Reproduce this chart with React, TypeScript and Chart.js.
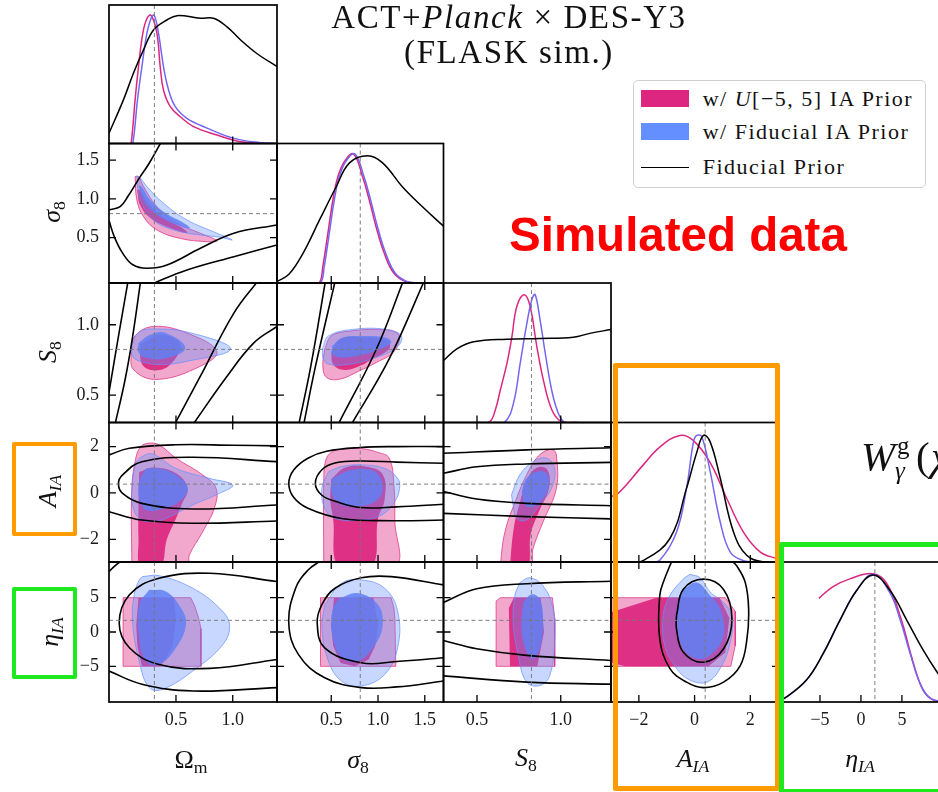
import { useEffect, useRef } from 'react';
import { Chart, registerables } from 'chart.js';
Chart.register(...registerables);

type P = [number, number];

// ---------------- 1D marginals: [value, normalised density] ----------------
const om_1d_U: P[] = [[0.09, 0], [0.105, 0.0], [0.14, 0.34], [0.17, 0.6], [0.208, 0.86], [0.244, 0.975], [0.28, 1.0], [0.332, 0.86], [0.361, 0.6], [0.39, 0.417], [0.45, 0.287], [0.538, 0.209], [0.655, 0.131], [0.862, 0.066], [1.068, 0.014], [1.39, 0.0]];
const om_1d_F: P[] = [[0.1, 0], [0.12, 0.0], [0.161, 0.34], [0.2, 0.6], [0.244, 0.86], [0.28, 0.975], [0.308, 1.0], [0.346, 0.86], [0.39, 0.6], [0.435, 0.417], [0.494, 0.287], [0.597, 0.196], [0.774, 0.12], [1.01, 0.04], [1.245, 0.006], [1.39, 0.0]];
const om_1d_P: P[] = [[-0.09, 0.08], [0.037, 0.34], [0.126, 0.55], [0.214, 0.73], [0.302, 0.885], [0.42, 0.963], [0.51, 0.997], [0.715, 0.977], [0.83, 0.977], [0.95, 0.91], [1.07, 0.807], [1.215, 0.7], [1.39, 0.6]];

const s8_1d_U: P[] = [[0.3, 0], [0.376, 0.005], [0.41, 0.126], [0.464, 0.385], [0.517, 0.64], [0.57, 0.82], [0.64, 0.94], [0.737, 1.0], [0.836, 0.82], [0.907, 0.64], [0.979, 0.436], [1.067, 0.23], [1.17, 0.075], [1.3, 0.01], [1.45, 0]];
const s8_1d_F: P[] = [[0.32, 0], [0.39, 0.005], [0.425, 0.126], [0.479, 0.385], [0.532, 0.64], [0.585, 0.82], [0.655, 0.94], [0.752, 1.0], [0.851, 0.82], [0.922, 0.64], [0.994, 0.436], [1.082, 0.23], [1.185, 0.075], [1.315, 0.01], [1.46, 0]];
const s8_1d_P: P[] = [[-0.08, 0.01], [0.05, 0.07], [0.198, 0.23], [0.376, 0.49], [0.553, 0.745], [0.695, 0.93], [0.889, 0.985], [1.049, 0.93], [1.26, 0.745], [1.475, 0.59], [1.7, 0.44]];

const S8_1d_U: P[] = [[0.5, 0], [0.575, 0.005], [0.61, 0.1], [0.639, 0.25], [0.679, 0.46], [0.708, 0.66], [0.738, 0.9], [0.782, 0.99], [0.817, 0.9], [0.857, 0.59], [0.896, 0.33], [0.946, 0.1], [1.0, 0.01], [1.1, 0]];
const S8_1d_F: P[] = [[0.6, 0], [0.668, 0.005], [0.718, 0.15], [0.758, 0.46], [0.798, 0.77], [0.827, 0.95], [0.847, 0.99], [0.877, 0.79], [0.907, 0.54], [0.946, 0.25], [0.986, 0.07], [1.026, 0.0], [1.1, 0]];
const S8_1d_P: P[] = [[0.3, 0.48], [0.38, 0.57], [0.48, 0.625], [0.679, 0.645], [0.877, 0.65], [1.075, 0.66], [1.174, 0.69], [1.3, 0.72]];

const A_1d_U: P[] = [[-3.1, 0.5], [-2.75, 0.53], [-1.85, 0.75], [-1.25, 0.89], [-0.53, 0.98], [-0.04, 0.94], [0.56, 0.77], [1.16, 0.49], [1.76, 0.23], [2.36, 0.077], [2.96, 0.026], [3.1, 0.02]];
const A_1d_F: P[] = [[-1.6, 0], [-1.25, 0.013], [-0.65, 0.23], [-0.29, 0.57], [-0.04, 0.93], [0.08, 0.98], [0.26, 0.97], [0.56, 0.7], [0.92, 0.31], [1.28, 0.077], [1.76, 0.01], [2.2, 0]];
const A_1d_P: P[] = [[-2.3, 0], [-1.85, 0.01], [-0.89, 0.18], [-0.29, 0.57], [0.08, 0.85], [0.32, 0.98], [0.56, 0.93], [0.92, 0.65], [1.4, 0.23], [1.88, 0.05], [2.48, 0.0], [3.1, 0]];

const eta_1d_U: P[] = [[-5.14, 0.8], [-3.4, 0.89], [-1.35, 0.95], [1.5, 0.99], [3.15, 0.915], [4.8, 0.66], [6.4, 0.3], [7.6, 0.09], [8.85, 0.015], [10.5, 0]];
const eta_1d_F: P[] = [[-10, 0.02], [-9.3, 0.03], [-6.65, 0.17], [-4.6, 0.375], [-2.57, 0.63], [-0.53, 0.86], [1.5, 0.985], [3.55, 0.84], [4.8, 0.63], [6.0, 0.375], [7.2, 0.145], [8.45, 0.03], [10.5, 0]];
const eta_1d_P: P[] = [[-10, 0.02], [-9.3, 0.03], [-6.65, 0.17], [-4.6, 0.375], [-2.57, 0.63], [-0.53, 0.86], [1.5, 0.98], [3.55, 0.86], [5.6, 0.63], [7.6, 0.4], [9.4, 0.22], [10.5, 0.13]];

// ---------------- 2D contours: [x, y] outlines ----------------
// Omega_m - sigma_8
const om_s8_U95: P[] = [[0.14, 1.288], [0.155, 0.987], [0.214, 0.771], [0.332, 0.6], [0.538, 0.49], [0.774, 0.448], [0.862, 0.46], [0.715, 0.557], [0.509, 0.686], [0.332, 0.9], [0.214, 1.159], [0.17, 1.288], [0.14, 1.288]];
const om_s8_U68: P[] = [[0.158, 1.116], [0.185, 0.92], [0.273, 0.755], [0.45, 0.625], [0.6, 0.56], [0.556, 0.625], [0.38, 0.767], [0.255, 0.948], [0.185, 1.116], [0.158, 1.116]];
const om_s8_F95: P[] = [[0.155, 1.297], [0.185, 0.987], [0.302, 0.729], [0.479, 0.6], [0.715, 0.535], [0.891, 0.505], [0.995, 0.47], [0.862, 0.557], [0.597, 0.729], [0.39, 0.944], [0.244, 1.159], [0.185, 1.27], [0.155, 1.297]];
const om_s8_F68: P[] = [[0.17, 1.18], [0.211, 0.987], [0.3, 0.83], [0.45, 0.7], [0.626, 0.62], [0.582, 0.677], [0.405, 0.82], [0.273, 0.987], [0.2, 1.155], [0.17, 1.18]];
const om_s8_P1: P[] = [[0.376, 1.75], [0.26, 1.45], [0.185, 1.288], [0.08, 1.04], [0.008, 0.9], [-0.09, 0.86]];
const om_s8_P2: P[] = [[-0.09, 0.72], [-0.04, 0.5], [0.03, 0.3], [0.12, 0.15], [0.244, 0.105], [0.42, 0.147], [0.715, 0.363], [1.01, 0.557], [1.39, 0.664]];
const om_s8_P3: P[] = [[0.25, -0.12], [0.3, -0.09], [0.597, 0.083], [1.01, 0.255], [1.39, 0.405]];

// Omega_m - S_8
const om_S8_U95: P[] = [[0.102, 0.811], [0.14, 0.922], [0.302, 0.988], [0.597, 0.941], [0.86, 0.81], [0.715, 0.705], [0.332, 0.611], [0.125, 0.682], [0.102, 0.811]];
const om_S8_U68: P[] = [[0.185, 0.859], [0.361, 0.929], [0.538, 0.859], [0.45, 0.717], [0.317, 0.675], [0.203, 0.717], [0.185, 0.859]];
const om_S8_F95: P[] = [[0.111, 0.847], [0.167, 0.943], [0.302, 0.97], [0.626, 0.943], [0.98, 0.828], [0.597, 0.74], [0.361, 0.717], [0.185, 0.74], [0.114, 0.78], [0.111, 0.847]];
const om_S8_F68: P[] = [[0.17, 0.871], [0.273, 0.929], [0.405, 0.943], [0.582, 0.835], [0.405, 0.76], [0.229, 0.767], [0.167, 0.809], [0.17, 0.871]];
const om_S8_P1: P[] = [[-0.09, 0.52], [0.0, 0.95], [0.08, 1.32]];
const om_S8_P2: P[] = [[-0.04, 0.28], [0.052, 0.611], [0.114, 0.894], [0.19, 1.32]];
const om_S8_P3: P[] = [[0.48, 0.28], [0.715, 0.634], [1.01, 1.083], [1.23, 1.32]];
const om_S8_P4: P[] = [[0.64, 0.28], [0.95, 0.634], [1.186, 0.871], [1.39, 0.988]];

// sigma_8 - S_8
const s8_S8_U95: P[] = [[0.43, 0.826], [0.5, 0.92], [0.7, 0.955], [1.02, 0.967], [1.2, 0.943], [1.23, 0.896], [1.16, 0.802], [0.98, 0.731], [0.8, 0.672], [0.59, 0.613], [0.45, 0.625], [0.41, 0.708], [0.43, 0.826]];
const s8_S8_U68: P[] = [[0.5, 0.8], [0.6, 0.9], [0.85, 0.91], [1.1, 0.89], [1.12, 0.83], [0.95, 0.76], [0.78, 0.7], [0.62, 0.68], [0.52, 0.72], [0.5, 0.8]];
const s8_S8_F95: P[] = [[0.41, 0.838], [0.47, 0.92], [0.73, 0.967], [1.09, 0.967], [1.25, 0.92], [1.2, 0.838], [0.98, 0.767], [0.7, 0.72], [0.47, 0.72], [0.41, 0.767], [0.41, 0.838]];
const s8_S8_F68: P[] = [[0.51, 0.85], [0.62, 0.908], [0.82, 0.92], [1.09, 0.908], [1.14, 0.873], [1.02, 0.826], [0.86, 0.79], [0.62, 0.767], [0.51, 0.79], [0.51, 0.85]];
const s8_S8_P1: P[] = [[0.149, 0.28], [0.28, 0.7], [0.44, 1.32]];
const s8_S8_P2: P[] = [[0.202, 0.28], [0.33, 0.7], [0.545, 1.32]];
const s8_S8_P3: P[] = [[0.565, 0.28], [0.982, 0.826], [1.275, 1.32]];
const s8_S8_P4: P[] = [[0.705, 0.28], [1.118, 0.755], [1.5, 1.32]];

// Omega_m - A_IA
const om_A_U95: P[] = [[0.111, -3.2], [0.111, 0.2], [0.146, 1.5], [0.19, 2.0], [0.264, 2.15], [0.353, 2.07], [0.5, 1.5], [0.736, 0.777], [0.853, 0.2], [0.838, -0.66], [0.736, -1.67], [0.618, -2.68], [0.6, -3.2], [0.111, -3.2]];
const om_A_U68: P[] = [[0.176, 0.9], [0.3, 1.1], [0.5, 0.85], [0.603, 0.2], [0.55, -0.5], [0.5, -1.1], [0.42, -2.0], [0.36, -3.2], [0.19, -3.2], [0.17, -2.0], [0.17, -0.5], [0.176, 0.9]];
const om_A_F95: P[] = [[0.146, 1.35], [0.205, 1.58], [0.294, 1.68], [0.5, 1.06], [0.795, 0.63], [1.0, 0.34], [0.883, -0.017], [0.647, -0.52], [0.412, -1.1], [0.294, -1.24], [0.176, -1.1], [0.117, -0.52], [0.117, 0.49], [0.146, 1.35]];
const om_A_F68: P[] = [[0.235, 1.06], [0.353, 1.06], [0.5, 0.78], [0.603, 0.2], [0.53, -0.37], [0.353, -0.73], [0.235, -0.73], [0.176, -0.23], [0.176, 0.49], [0.235, 1.06]];
const om_A_P1: P[] = [[-0.09, 1.64], [0.09, 1.93], [0.5, 2.08], [1.0, 2.06], [1.39, 2.03]];
const om_A_P2: P[] = [[1.39, 1.35], [0.65, 1.54], [0.2, 1.35], [0.03, 0.78], [-0.007, 0.41], [0.03, -0.02], [0.2, -0.45], [0.65, -0.69], [1.39, -0.52]];
const om_A_P3: P[] = [[-0.09, -0.81], [0.2, -1.17], [0.65, -1.31], [1.39, -1.21]];

// sigma_8 - A_IA
const s8_A_U95: P[] = [[0.42, -3.2], [0.42, 0.5], [0.44, 1.4], [0.5, 1.75], [0.61, 1.88], [0.81, 1.92], [1.0, 1.75], [1.12, 1.5], [1.17, 0.3], [1.18, -1.2], [1.18, -3.2], [0.42, -3.2]];
const s8_A_U68: P[] = [[0.5, 0.6], [0.65, 1.1], [0.85, 1.15], [1.05, 0.8], [1.07, -0.3], [1.0, -1.1], [0.93, -3.2], [0.58, -3.2], [0.52, -1.1], [0.49, -0.3], [0.5, 0.6]];
const s8_A_F95: P[] = [[0.47, 0.92], [0.61, 1.14], [0.82, 1.21], [1.07, 1.06], [1.21, 0.63], [1.23, 0.2], [1.18, -0.37], [1.04, -0.95], [0.82, -1.17], [0.54, -1.1], [0.43, -0.66], [0.4, 0.2], [0.47, 0.92]];
const s8_A_F68: P[] = [[0.51, 0.63], [0.72, 0.99], [0.97, 0.92], [1.05, 0.2], [0.97, -0.37], [0.75, -0.59], [0.58, -0.45], [0.5, 0.06], [0.51, 0.63]];
const s8_A_P1: P[] = [[1.7, 2.0], [1.2, 2.0], [0.81, 1.96], [0.45, 1.8], [0.25, 1.5], [0.1, 1.0], [0.046, 0.41], [0.1, -0.2], [0.25, -0.66], [0.61, -1.1], [1.15, -1.2], [1.7, -1.17]];
const s8_A_P2: P[] = [[1.7, 1.28], [1.2, 1.33], [0.81, 1.38], [0.55, 1.3], [0.4, 1.0], [0.33, 0.41], [0.4, -0.1], [0.55, -0.37], [0.81, -0.63], [1.2, -0.6], [1.7, -0.49]];

// S_8 - A_IA
const S8_A_U95: P[] = [[0.637, -3.2], [0.667, -1.67], [0.736, -0.23], [0.796, 0.78], [0.855, 1.5], [0.91, 1.82], [0.954, 1.86], [0.974, 1.64], [0.974, 0.2], [0.895, -1.24], [0.835, -2.39], [0.815, -3.2], [0.637, -3.2]];
const S8_A_U68: P[] = [[0.696, -3.2], [0.72, -1.5], [0.76, -0.3], [0.8, 0.6], [0.86, 1.1], [0.92, 1.0], [0.93, 0.2], [0.87, -0.8], [0.82, -1.8], [0.8, -3.2], [0.696, -3.2]];
const S8_A_F95: P[] = [[0.706, -0.08], [0.756, 0.78], [0.835, 1.35], [0.915, 1.5], [0.964, 1.06], [0.945, 0.2], [0.875, -0.52], [0.796, -1.17], [0.736, -1.1], [0.716, -0.52], [0.706, -0.08]];
const S8_A_F68: P[] = [[0.766, 0.06], [0.796, 0.63], [0.855, 0.92], [0.915, 0.85], [0.93, 0.34], [0.895, -0.23], [0.835, -0.59], [0.786, -0.52], [0.766, 0.06]];
const S8_A_P1: P[] = [[0.3, 1.71], [0.796, 1.86], [1.3, 1.95]];
const S8_A_P2: P[] = [[0.3, 0.85], [0.498, 1.13], [0.796, 1.25], [1.3, 1.32]];
const S8_A_P3: P[] = [[0.3, 0.06], [0.498, -0.26], [0.796, -0.45], [1.3, -0.55]];
const S8_A_P4: P[] = [[0.3, -0.88], [0.796, -1.02], [1.3, -1.12]];

// Omega_m - eta_IA
const om_eta_U95: P[] = [[0.034, -5], [0.034, 5], [0.63, 5], [0.665, 3.8], [0.7, 2.0], [0.72, 0.5], [0.72, -5], [0.034, -5]];
const om_eta_U68: P[] = [[0.17, 5], [0.48, 5], [0.5, 2], [0.47, -2], [0.4, -4.2], [0.35, -5], [0.2, -5], [0.16, -2], [0.15, 1], [0.17, 5]];
const om_eta_F95: P[] = [[0.205, 8.07], [0.353, 8.2], [0.647, 6.38], [0.883, 3.48], [0.972, 1.07], [0.913, -1.83], [0.647, -5.7], [0.382, -8.35], [0.264, -8.1], [0.176, -4.25], [0.117, 1.55], [0.132, 5.42], [0.176, 7.59], [0.205, 8.07]];
const om_eta_F68: P[] = [[0.264, 6.14], [0.412, 5.9], [0.544, 3.48], [0.588, 1.07], [0.5, -2.3], [0.353, -4.73], [0.235, -4.25], [0.176, -0.86], [0.176, 3.96], [0.264, 6.14]];
const om_eta_P1: P[] = [[1.39, 7.35], [0.8, 8.55], [0.35, 7.83], [0.09, 5.42], [0.0, 1.3], [0.09, -2.3], [0.35, -4.73], [0.8, -5.3], [1.39, -4.0]];
const om_eta_P2: P[] = [[-0.09, 8.8], [-0.04, 9.6], [0.03, 10.5]];
const om_eta_P3: P[] = [[-0.09, -5.7], [0.2, -7.6], [0.65, -8.6], [1.39, -8.1]];

// sigma_8 - eta_IA
const s8_eta_U95: P[] = [[0.385, -5], [0.385, 5], [1.14, 5], [1.17, 3.5], [1.18, 2], [1.19, -5], [0.385, -5]];
const s8_eta_U68: P[] = [[0.53, 5], [0.95, 5], [1.0, 1], [0.97, -2], [0.9, -4], [0.75, -5], [0.6, -4.5], [0.52, -2], [0.5, 1], [0.53, 5]];
const s8_eta_F95: P[] = [[0.43, 3.96], [0.61, 7.1], [0.82, 7.59], [1.07, 6.38], [1.21, 3.0], [1.21, -2.3], [1.07, -6.2], [0.82, -7.87], [0.61, -7.15], [0.47, -4.25], [0.4, 0.58], [0.43, 3.96]];
const s8_eta_F68: P[] = [[0.58, 4.9], [0.79, 5.66], [1.0, 3.96], [1.05, 1.07], [0.97, -1.83], [0.79, -4.25], [0.61, -3.76], [0.51, -0.38], [0.51, 3.0], [0.58, 4.9]];
const s8_eta_P1: P[] = [[1.7, 6.87], [1.14, 8.07], [0.82, 7.9], [0.54, 6.38], [0.4, 4.0], [0.35, 1.3], [0.43, -2.3], [0.82, -4.49], [1.2, -4.3], [1.7, -3.76]];
const s8_eta_P2: P[] = [[0.4, 10.5], [0.25, 9.0], [0.12, 6.4], [0.046, 1.3], [0.15, -3.3], [0.43, -6.67], [0.82, -8.1], [1.2, -8.0], [1.7, -7.15]];

// S_8 - eta_IA
const S8_eta_U95: P[] = [[0.614, -5], [0.614, 4.5], [0.64, 5], [0.95, 5], [0.964, 2], [0.964, -5], [0.614, -5]];
const S8_eta_U68: P[] = [[0.697, -5], [0.69, 3.5], [0.72, 5], [0.88, 5], [0.9, 0], [0.86, -5], [0.697, -5]];
const S8_eta_F95: P[] = [[0.756, 7.2], [0.815, 7.9], [0.895, 6.7], [0.954, 3.4], [0.964, -1.0], [0.935, -6.3], [0.875, -7.8], [0.796, -7.3], [0.746, -3.4], [0.716, 1.4], [0.726, 5.3], [0.756, 7.2]];
const S8_eta_F68: P[] = [[0.776, 4.3], [0.826, 5.5], [0.875, 4.8], [0.895, 1.4], [0.875, -2.45], [0.835, -3.9], [0.796, -2.9], [0.766, 0.45], [0.776, 4.3]];
const S8_eta_P1: P[] = [[0.3, 4.31], [0.498, 6.3], [0.796, 7.04], [1.3, 7.4]];
const S8_eta_P2: P[] = [[0.3, -1.24], [0.498, -2.45], [0.796, -3.4], [1.3, -4.15]];
const S8_eta_P3: P[] = [[0.3, -6.4], [0.796, -7.3], [1.3, -7.6]];

// A_IA - eta_IA
const A_eta_U95: P[] = [[-3.2, -5], [-3.2, 5], [1.1, 5], [1.46, 3], [1.46, -2], [1.3, -5], [-3.2, -5]];
const A_eta_U68: P[] = [[-3.2, 2.6], [-1.37, 5], [0.9, 5], [1.25, 2], [1.1, -3], [0.5, -5], [-2.5, -5], [-3.2, -4.2], [-3.2, 2.6]];
const A_eta_F95: P[] = [[-0.17, 8.4], [0.2, 7.9], [0.56, 5.8], [1.04, 4.3], [1.34, 2.4], [1.28, -1.5], [0.92, -5.3], [0.44, -7.3], [-0.17, -7.0], [-0.65, -5.3], [-1.07, -2.0], [-1.13, 2.4], [-0.89, 5.3], [-0.41, 7.7], [-0.17, 8.4]];
const A_eta_F68: P[] = [[-0.41, 6.2], [0.08, 7.2], [0.56, 5.3], [0.92, 3.4], [1.04, -0.55], [0.56, -3.4], [0.08, -3.9], [-0.41, -2.45], [-0.65, 1.4], [-0.59, 4.3], [-0.41, 6.2]];
const A_eta_P1: P[] = [[-0.8, 10.5], [-1.1, 7.5], [-1.25, 5.3], [-1.25, -1.0], [-0.89, -5.3], [-0.29, -7.3], [0.32, -8.1], [1.04, -7.3], [1.64, -4.9], [1.88, -1.0], [1.94, 3.4], [1.82, 7.2], [1.52, 9.6], [1.3, 10.5]];
const A_eta_P2: P[] = [[-0.65, 2.4], [-0.41, 6.2], [0.32, 7.7], [1.04, 6.2], [1.34, 1.9], [1.04, -2.45], [0.32, -4.4], [-0.41, -2.9], [-0.65, 0.45], [-0.65, 2.4]];

// ---------------- axes ----------------
const PARAM_KEYS = ['om', 's8', 'S8', 'A', 'eta'];
const X_RANGE: Record<string, P> = { om: [-0.09, 1.39], s8: [-0.08, 1.7], S8: [0.3, 1.3], A: [-3.0, 3.03], eta: [-10, 10.5] };
const Y_RANGE: Record<string, P> = { om: [-0.09, 1.39], s8: [-0.085, 1.715], S8: [0.305, 1.297], A: [-2.98, 3.04], eta: [-10.2, 10.2] };
const TICKS_om = [0.5, 1.0];
const TICKS_s8 = [0.5, 1.0, 1.5];
const TICKS_S8 = [0.5, 1.0];
const TICKS_A = [-2, 0, 2];
const TICKS_eta = [-5, 0, 5];
const TICKS: Record<string, number[]> = { om: TICKS_om, s8: TICKS_s8, S8: TICKS_S8, A: TICKS_A, eta: TICKS_eta };
const FIDUCIAL: Record<string, number> = { om: 0.31, s8: 0.81, S8: 0.825, A: 0.38, eta: 1.7 };
const D1_MAX = 1.08;

// ---------------- layout / style ----------------
const CW = 960, CH = 792;
const COL_X = [109, 277, 443.5, 611, 779, 947];
const ROW_Y = [5, 143.5, 283, 422.5, 562, 702];
const YW = 60, XH = 40;
const SERIF = '"Liberation Serif", "DejaVu Serif", serif';

const U95_FILL = 'rgba(220,38,127,0.4)';
const U95_EDGE = 'rgba(220,38,127,0.7)';
const U68_FILL = 'rgba(220,38,127,0.92)';
const F95_FILL = 'rgba(100,143,255,0.36)';
const F95_EDGE = 'rgba(100,143,255,0.7)';
const F68_FILL = 'rgba(96,128,244,0.84)';
const LINE_U = '#dc267f';
const LINE_F = '#7466f0';

type Panel2D = { r: number; c: number; U95: P[]; U68: P[]; F95: P[]; F68: P[]; prior: P[][]; sharpU?: boolean };
type Panel1D = { i: number; U: P[]; F: P[]; prior: P[] };

const PANELS_2D: Panel2D[] = [
  { r: 1, c: 0, U95: om_s8_U95, U68: om_s8_U68, F95: om_s8_F95, F68: om_s8_F68, prior: [om_s8_P1, om_s8_P2, om_s8_P3] },
  { r: 2, c: 0, U95: om_S8_U95, U68: om_S8_U68, F95: om_S8_F95, F68: om_S8_F68, prior: [om_S8_P1, om_S8_P2, om_S8_P3, om_S8_P4] },
  { r: 2, c: 1, U95: s8_S8_U95, U68: s8_S8_U68, F95: s8_S8_F95, F68: s8_S8_F68, prior: [s8_S8_P1, s8_S8_P2, s8_S8_P3, s8_S8_P4] },
  { r: 3, c: 0, U95: om_A_U95, U68: om_A_U68, F95: om_A_F95, F68: om_A_F68, prior: [om_A_P1, om_A_P2, om_A_P3] },
  { r: 3, c: 1, U95: s8_A_U95, U68: s8_A_U68, F95: s8_A_F95, F68: s8_A_F68, prior: [s8_A_P1, s8_A_P2] },
  { r: 3, c: 2, U95: S8_A_U95, U68: S8_A_U68, F95: S8_A_F95, F68: S8_A_F68, prior: [S8_A_P1, S8_A_P2, S8_A_P3, S8_A_P4] },
  { r: 4, c: 0, U95: om_eta_U95, U68: om_eta_U68, F95: om_eta_F95, F68: om_eta_F68, prior: [om_eta_P1, om_eta_P2, om_eta_P3], sharpU: true },
  { r: 4, c: 1, U95: s8_eta_U95, U68: s8_eta_U68, F95: s8_eta_F95, F68: s8_eta_F68, prior: [s8_eta_P1, s8_eta_P2], sharpU: true },
  { r: 4, c: 2, U95: S8_eta_U95, U68: S8_eta_U68, F95: S8_eta_F95, F68: S8_eta_F68, prior: [S8_eta_P1, S8_eta_P2, S8_eta_P3], sharpU: true },
  { r: 4, c: 3, U95: A_eta_U95, U68: A_eta_U68, F95: A_eta_F95, F68: A_eta_F68, prior: [A_eta_P1, A_eta_P2], sharpU: true },
];
const PANELS_1D: Panel1D[] = [
  { i: 0, U: om_1d_U, F: om_1d_F, prior: om_1d_P },
  { i: 1, U: s8_1d_U, F: s8_1d_F, prior: s8_1d_P },
  { i: 2, U: S8_1d_U, F: S8_1d_F, prior: S8_1d_P },
  { i: 3, U: A_1d_U, F: A_1d_F, prior: A_1d_P },
  { i: 4, U: eta_1d_U, F: eta_1d_F, prior: eta_1d_P },
];

const pts = (a: P[]) => a.map(([x, y]) => ({ x, y }));
const region = (a: P[], bg: string, edge: string, bw: number, tension: number) => ({
  data: pts(a), fill: 'shape', backgroundColor: bg, borderColor: edge, borderWidth: bw, tension, pointRadius: 0,
});
const curve = (a: P[], color: string, w: number) => ({
  data: pts(a), fill: false, borderColor: color, borderWidth: w, tension: 0.4, pointRadius: 0,
});

const fmtTick = (k: string) => (v: number) => {
  if (k === 'A' || k === 'eta') return v < 0 ? '\u2212' + Math.abs(v) : String(v);
  return v.toFixed(1);
};

const panelDeco = {
  id: 'panelDeco',
  afterDatasetsDraw(chart: any, _args: any, o: any) {
    const { ctx, chartArea: a } = chart;
    const xs = chart.scales.x, ys = chart.scales.y;
    ctx.save();
    ctx.strokeStyle = 'rgba(120,120,120,0.95)';
    ctx.lineWidth = 1;
    ctx.setLineDash([4, 3]);
    ctx.beginPath();
    if (o.fx != null) { const px = xs.getPixelForValue(o.fx); ctx.moveTo(px, a.top); ctx.lineTo(px, a.bottom); }
    if (o.fy != null) { const py = ys.getPixelForValue(o.fy); ctx.moveTo(a.left, py); ctx.lineTo(a.right, py); }
    ctx.stroke();
    ctx.setLineDash([]);
    ctx.strokeStyle = '#000';
    ctx.lineWidth = 1.3;
    ctx.beginPath();
    const L = 7;
    for (const v of o.xt) {
      const px = xs.getPixelForValue(v);
      ctx.moveTo(px, a.bottom); ctx.lineTo(px, a.bottom - L);
      if (!o.diag) { ctx.moveTo(px, a.top); ctx.lineTo(px, a.top + L); }
    }
    if (!o.diag) {
      for (const v of o.yt) {
        const py = ys.getPixelForValue(v);
        ctx.moveTo(a.left, py); ctx.lineTo(a.left + L, py);
        ctx.moveTo(a.right, py); ctx.lineTo(a.right - L, py);
      }
    }
    ctx.stroke();
    ctx.lineWidth = 1.7;
    ctx.strokeRect(a.left, a.top, a.right - a.left, a.bottom - a.top);
    ctx.restore();
  },
};

function buildConfig(r: number, c: number, diag: boolean, datasets: any[]) {
  const xk = PARAM_KEYS[c];
  const yk = PARAM_KEYS[r];
  const showX = r === 4;
  const showY = c === 0 && !diag;
  const x0 = COL_X[c], x1 = COL_X[c + 1], y0 = ROW_Y[r], y1 = ROW_Y[r + 1];
  const n = datasets.length;
  datasets.forEach((d, i) => { d.order = n - i; });
  const font = { family: SERIF, size: 18 };
  return {
    type: 'line',
    data: { datasets },
    options: {
      responsive: false, animation: false, devicePixelRatio: 1, events: [],
      layout: { padding: { left: x0 - (showY ? YW : 0), right: CW - x1, top: y0, bottom: CH - y1 - (showX ? XH : 0) } },
      elements: { point: { radius: 0 }, line: { capBezierPoints: false } },
      scales: {
        x: {
          type: 'linear', position: 'bottom', min: X_RANGE[xk][0], max: X_RANGE[xk][1], display: showX,
          grid: { display: false, drawTicks: false }, border: { display: false },
          ticks: { font, color: '#1a1a1a', padding: 7, autoSkip: false, maxRotation: 0, callback: fmtTick(xk) },
          afterBuildTicks: (s: any) => { s.ticks = TICKS[xk].map((v) => ({ value: v })); },
          afterFit: (s: any) => { s.height = showX ? XH : 0; },
        },
        y: {
          type: 'linear', position: 'left',
          min: diag ? 0 : Y_RANGE[yk][0], max: diag ? D1_MAX : Y_RANGE[yk][1], display: showY,
          grid: { display: false, drawTicks: false }, border: { display: false },
          ticks: { font, color: '#1a1a1a', padding: 10, autoSkip: false, callback: fmtTick(yk) },
          afterBuildTicks: (s: any) => { s.ticks = TICKS[yk].map((v) => ({ value: v })); },
          afterFit: (s: any) => { s.width = showY ? YW : 0; },
        },
      },
      plugins: {
        legend: { display: false }, tooltip: { enabled: false },
        panelDeco: { fx: FIDUCIAL[xk], fy: diag ? null : FIDUCIAL[yk], xt: TICKS[xk], yt: TICKS[yk], diag },
      },
    },
    plugins: [panelDeco],
  };
}

function ChartPanel({ r, c, diag, make }: { r: number; c: number; diag: boolean; make: () => any[] }) {
  const ref = useRef<HTMLCanvasElement>(null);
  useEffect(() => {
    const chart = new Chart(ref.current as HTMLCanvasElement, buildConfig(r, c, diag, make()) as any);
    return () => chart.destroy();
  }, []);
  return <canvas ref={ref} width={CW} height={CH} style={{ position: 'absolute', left: 0, top: 0, width: CW, height: CH }} />;
}

const sub = (s: any, italic = false) => (
  <span style={{ fontSize: '0.68em', verticalAlign: '-0.32em', fontStyle: italic ? 'italic' : 'normal' }}>{s}</span>
);

function Txt({ x, y, size, rot, children, color = '#111', family = SERIF, weight = 400, anchor = 'center', style = {} }: any) {
  const tr = anchor === 'center' ? 'translate(-50%,-50%)' : 'translate(0,-50%)';
  return (
    <div style={{ position: 'absolute', left: x, top: y, transform: tr + (rot ? ' rotate(-90deg)' : ''), fontFamily: family, fontSize: size, fontWeight: weight, color, lineHeight: 1, whiteSpace: 'nowrap', ...style }}>
      {children}
    </div>
  );
}

const box = (l: number, t: number, w: number, h: number, color: string, bw: number) => (
  <div style={{ position: 'absolute', left: l, top: t, width: w, height: h, boxSizing: 'border-box', border: `${bw}px solid ${color}`, borderRadius: 2 }} />
);

export default function App() {
  const ORANGE = '#ff9a00';
  const GREEN = '#1ee81e';
  const legendText = { letterSpacing: '1.5px' };
  return (
    <div style={{ position: 'absolute', left: 0, top: 0, width: 938, height: 792, overflow: 'hidden', background: '#fff' }}>
      {PANELS_1D.map((p) => (
        <ChartPanel key={'d' + p.i} r={p.i} c={p.i} diag make={() => [curve(p.U, LINE_U, 1.5), curve(p.F, LINE_F, 1.5), curve(p.prior, '#000', 1.5)]} />
      ))}
      {PANELS_2D.map((p) => (
        <ChartPanel key={p.r + '-' + p.c} r={p.r} c={p.c} diag={false} make={() => [
          region(p.U95, U95_FILL, U95_EDGE, 1, p.sharpU ? 0 : 0.4),
          region(p.U68, U68_FILL, 'rgba(0,0,0,0)', 0, p.sharpU ? 0 : 0.4),
          region(p.F95, F95_FILL, F95_EDGE, 1, 0.4),
          region(p.F68, F68_FILL, 'rgba(0,0,0,0)', 0, 0.4),
          ...p.prior.map((q) => curve(q, '#000', 1.6)),
        ]} />
      ))}

      {/* title */}
      <div style={{ position: 'absolute', left: 0, top: 0, width: 1018, textAlign: 'center', fontFamily: SERIF, fontSize: 33, lineHeight: '35px', letterSpacing: '1.6px', color: '#111' }}>
        <div>ACT+<i>Planck</i> × DES-Y3</div>
        <div>(FLASK sim.)</div>
      </div>

      {/* legend */}
      <div style={{ position: 'absolute', left: 632.7, top: 80, width: 293.3, height: 108, boxSizing: 'border-box', border: '1.5px solid #cfcfcf', borderRadius: 5, background: '#fff' }}>
        <div style={{ position: 'absolute', left: 7, top: 8.5, width: 48, height: 17, background: '#dc267f' }} />
        <div style={{ position: 'absolute', left: 7, top: 41.8, width: 48, height: 17.7, background: '#648fff' }} />
        <div style={{ position: 'absolute', left: 7, top: 85.5, width: 48, height: 1.5, background: '#000' }} />
        <Txt x={69} y={17.5} size={22} anchor="left" style={legendText}>w/ <i>U</i>[−5, 5] IA Prior</Txt>
        <Txt x={69} y={51} size={22} anchor="left" style={legendText}>w/ Fiducial IA Prior</Txt>
        <Txt x={69} y={86} size={22} anchor="left" style={legendText}>Fiducial Prior</Txt>
      </div>

      {/* annotation */}
      <Txt x={509} y={235} size={47.5} weight={700} color="#ff0000" family='"Liberation Sans", Arial, sans-serif' anchor="left">Simulated data</Txt>

      {/* partially visible formula */}
      <div style={{ position: 'absolute', left: 861, top: 436, fontFamily: SERIF, fontSize: 41, lineHeight: 1, color: '#111', whiteSpace: 'nowrap' }}>
        <i>W</i>
        <span style={{ position: 'absolute', left: 36, top: -3, fontSize: 25 }}>g</span>
        <span style={{ position: 'absolute', left: 34, top: 22, fontSize: 25, fontStyle: 'italic' }}>γ</span>
        <span style={{ position: 'absolute', left: 55, top: 0 }}>(</span>
        <span style={{ position: 'absolute', left: 70, top: 0, fontStyle: 'italic' }}>χ</span>
      </div>

      {/* axis titles */}
      <Txt x={191} y={762} size={26}>Ω{sub('m')}</Txt>
      <Txt x={358} y={762} size={26}><i>σ</i>{sub('8')}</Txt>
      <Txt x={526} y={760} size={26}><i>S</i>{sub('8')}</Txt>
      <Txt x={693} y={761} size={26}><i>A</i>{sub('IA', true)}</Txt>
      <Txt x={860} y={761} size={26}><i>η</i>{sub('IA', true)}</Txt>
      <Txt x={54} y={212} size={26} rot><i>σ</i>{sub('8')}</Txt>
      <Txt x={50} y={352} size={26} rot><i>S</i>{sub('8')}</Txt>
      <Txt x={50} y={491} size={26} rot><i>A</i>{sub('IA', true)}</Txt>
      <Txt x={52} y={632} size={26} rot><i>η</i>{sub('IA', true)}</Txt>

      {/* highlight boxes */}
      {box(12.3, 442.3, 65, 93.7, ORANGE, 4)}
      {box(12.3, 586.7, 65, 92.6, GREEN, 4)}
      {box(612.7, 363.3, 167.3, 428, ORANGE, 5)}
      {box(779, 541.7, 200, 252, GREEN, 5.5)}
    </div>
  );
}
